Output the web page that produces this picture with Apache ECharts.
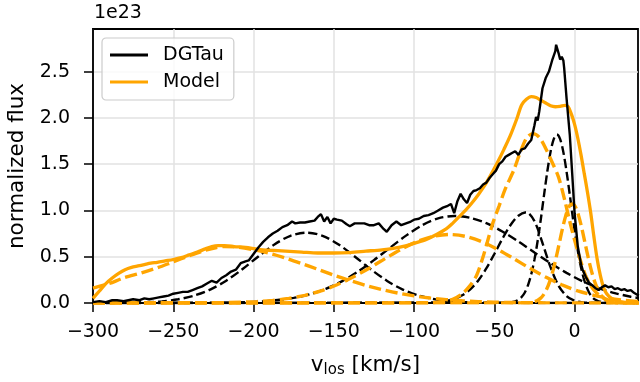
<!DOCTYPE html>
<html>
<head>
<meta charset="utf-8">
<script src="https://cdn.jsdelivr.net/npm/echarts@6/dist/echarts.min.js"></script>
<style>
  html, body { margin: 0; padding: 0; background: #ffffff; }
  #chart { width: 640px; height: 382px; }
</style>
</head>
<body>
<div id="chart"></div>
<script>
// Observed DG Tau line profile (flux in units of 1e23)
const dgVel = [-300,-296,-292,-288,-285,-281,-278,-275,-271,-268,-265,-262,-259,-256,-253,-250,-247,-244,-241,-238,
  -235,-232,-229,-226,-223,-220,-217,-214,-211,-208,-205,-203,-200,-197,-194,-191,-188,-185,-182,-179,
  -176,-174,-171,-168,-165,-162,-160,-158,-156,-154,-152,-150,-148,-145,-142,-140,-137,-134,-131,-128,
  -125,-122,-119,-117,-114,-111,-108,-105,-102,-100,-97,-94,-91,-88,-85,-82,-79,-77,-75,-73,
  -71,-69,-67,-65,-63,-61,-59,-57,-55,-53,-51,-49,-47,-45,-43,-41,-39,-37,-35,-33,
  -31,-29,-27,-25,-24,-23,-22,-20,-18,-16,-14,-12,-11.5,-10,-9,-8,-7,-6.5,-5,-3,
  -1.5,0,2,4,5,7,9,11,13,15,17,19,21,23,25,27,29,31,33,35,37,39,40];
const dgFlux = [0.01,0.02,0.01,0.03,0.03,0.02,0.03,0.04,0.03,0.05,0.04,0.05,0.06,0.07,0.08,0.10,0.11,0.12,0.12,0.14,
  0.16,0.18,0.21,0.24,0.22,0.27,0.30,0.34,0.36,0.43,0.45,0.46,0.53,0.60,0.66,0.71,0.75,0.78,0.82,0.84,
  0.88,0.86,0.87,0.87,0.88,0.89,0.93,0.96,0.88,0.93,0.86,0.91,0.90,0.89,0.85,0.83,0.86,0.86,0.86,0.84,
  0.84,0.86,0.80,0.77,0.84,0.88,0.84,0.86,0.88,0.90,0.91,0.94,0.95,0.97,1.00,1.03,1.05,1.07,0.97,1.10,
  1.18,1.12,1.08,1.17,1.21,1.22,1.24,1.28,1.30,1.35,1.39,1.43,1.50,1.53,1.58,1.60,1.62,1.64,1.60,1.66,
  1.67,1.72,1.76,1.92,2.01,1.97,2.07,2.32,2.43,2.50,2.62,2.72,2.79,2.70,2.63,2.66,2.62,2.54,2.21,1.82,
  1.40,0.97,0.61,0.42,0.36,0.28,0.22,0.19,0.16,0.14,0.17,0.19,0.17,0.18,0.15,0.16,0.14,0.15,0.13,0.14,0.11,0.09,0.08];

// Fitted model profile
const modelVel = [-300,-296,-292,-288,-284,-280,-276,-272,-268,-264,-260,-255,-250,-245,-240,-235,-230,-226,-222,-218,
  -212,-205,-197,-190,-180,-170,-160,-150,-140,-130,-120,-113,-106,-99,-92,-86,-80,-76,-72,-68,
  -64,-60,-56,-52,-48,-44,-40,-36,-33,-30,-27,-24,-21,-18,-15,-12,-9,-6,-4,-2,
  0,2,4,6,8,10,12,14,16,18,20,23,27,32,40];
const modelFlux = [0.05,0.13,0.21,0.27,0.32,0.36,0.385,0.40,0.415,0.43,0.44,0.455,0.47,0.49,0.52,0.55,0.585,0.61,0.62,0.62,
  0.61,0.60,0.58,0.57,0.56,0.55,0.54,0.54,0.545,0.56,0.575,0.59,0.615,0.65,0.69,0.74,0.80,0.86,0.93,1.0,
  1.08,1.17,1.27,1.39,1.52,1.66,1.81,1.99,2.14,2.2,2.23,2.22,2.19,2.16,2.13,2.12,2.125,2.135,2.12,2.04,
  1.93,1.78,1.6,1.4,1.2,0.98,0.72,0.48,0.3,0.17,0.1,0.05,0.02,0.005,0];

// Black dashed components
const bd1Vel = [-300,-280,-267,-257,-247,-237,-227,-217,-207,-197,-187,-177,-167,-157,-147,-137,-127,-117,-107,-97,-87,-77,-67,-47,40];
const bd1Flux = [0,0.002,0.008,0.018,0.04,0.08,0.145,0.241,0.365,0.503,0.632,0.726,0.76,0.726,0.632,0.503,0.365,0.241,0.145,0.08,0.04,0.018,0.008,0.001,0];
const bd2Vel = [-300,-235,-215,-195,-175,-165,-155,-145,-135,-125,-115,-105,-95,-85,-75,-65,-55,-45,-35,-25,-15,-5,5,15,25,35,40];
const bd2Flux = [0,0.001,0.004,0.016,0.055,0.095,0.153,0.234,0.339,0.463,0.597,0.728,0.84,0.914,0.94,0.92,0.862,0.773,0.664,0.546,0.43,0.325,0.234,0.162,0.107,0.068,0.053];
const bd3Vel = [-300,-90,-80,-75,-70,-65,-60,-55,-50,-45,-40,-35,-30,-25,-20,-15,-10,-5,0,5,10,40];
const bd3Flux = [0,0.004,0.02,0.043,0.083,0.148,0.244,0.373,0.529,0.693,0.84,0.943,0.98,0.884,0.648,0.387,0.188,0.074,0.024,0.006,0.001,0];
const bd4Vel = [-300,-41,-37,-35,-33,-31,-29,-27,-25,-23,-21,-19,-17,-15,-13,-11,-9,-7,-5,-3,-1,1,3,5,7,9,11,13,15,19,40];
const bd4Flux = [0,0.004,0.017,0.034,0.064,0.114,0.194,0.31,0.469,0.672,0.91,1.17,1.42,1.63,1.77,1.82,1.77,1.63,1.42,1.17,0.91,0.672,0.469,0.31,0.194,0.114,0.064,0.034,0.017,0.004,0];

// Orange dashed components
const od1Vel = [-300,-290,-281,-270,-260,-250,-240,-230,-223,-218,-210,-200,-190,-180,-170,-160,-150,-140,-130,-120,-110,-100,-90,-80,-70,-60,-50,-40,-20,40];
const od1Flux = [0.16,0.21,0.27,0.325,0.38,0.445,0.51,0.57,0.60,0.61,0.605,0.576,0.536,0.485,0.426,0.364,0.30,0.243,0.19,0.145,0.107,0.077,0.054,0.036,0.024,0.015,0.009,0.006,0.002,0];
const od2Vel = [-300,-218,-198,-188,-178,-168,-158,-148,-138,-128,-118,-108,-98,-88,-78,-68,-58,-48,-38,-28,-18,-8,2,12,22,32,40];
const od2Flux = [0,0.004,0.015,0.028,0.05,0.083,0.131,0.197,0.28,0.376,0.48,0.58,0.664,0.72,0.74,0.72,0.664,0.58,0.48,0.376,0.28,0.197,0.131,0.083,0.05,0.028,0.017];
const od3Vel = [-300,-95,-85,-76,-70,-65,-61,-57,-54,-51,-47,-43,-38,-34,-30,-26,-22,-18,-14,-10,-6,-3,0,4,7,10,13,17,22,28,40];
const od3Flux = [0,0.002,0.01,0.04,0.1,0.19,0.3,0.5,0.68,0.86,1.05,1.24,1.43,1.62,1.78,1.83,1.79,1.67,1.52,1.36,1.1,0.88,0.68,0.44,0.29,0.19,0.12,0.065,0.025,0.008,0];
const od4Vel = [-300,-29.5,-25.5,-23.5,-21.5,-19.5,-17.5,-15.5,-13.5,-11.5,-9.5,-7.5,-5.5,-3.5,-1.5,0.5,2.5,4.5,6.5,8.5,10.5,12.5,14.5,16.5,18.5,20.5,22.5,26.5,40];
const od4Flux = [0,0.002,0.012,0.024,0.047,0.085,0.145,0.231,0.347,0.49,0.649,0.808,0.944,1.04,1.07,1.04,0.944,0.808,0.649,0.49,0.347,0.231,0.145,0.085,0.047,0.024,0.012,0.002,0];

// Axis ticks
const xTicks = [-300,-250,-200,-150,-100,-50,0];
const yTicks = [0,0.5,1.0,1.5,2.0,2.5];

const FONT = 'DejaVu Sans';
const BLACK = '#000000';
const ORANGE = '#FFA500';

const pairs = (xs, ys) => xs.map((x, i) => [x, ys[i]]);
const minusFmt = v => (v < 0 ? '\u2212' + Math.abs(v) : String(v));

function compSeries(name, xs, ys, color, width, dash) {
  return {
    name: name, type: 'line', data: pairs(xs, ys),
    showSymbol: false, symbol: 'none', smooth: 0.3,
    lineStyle: { color: color, width: width, type: dash },
    itemStyle: { color: color }, z: 3, silent: true
  };
}

const chart = echarts.init(document.getElementById('chart'), null, { renderer: 'canvas' });
chart.setOption({
  animation: false,
  backgroundColor: '#ffffff',
  grid: { left: 93, top: 29, width: 545, height: 274, containLabel: false, outerBoundsMode: 'none',
          show: true, borderColor: BLACK, borderWidth: 1.8, backgroundColor: 'transparent' },
  legend: {
    data: ['DGTau', 'Model'], orient: 'vertical', left: 102, top: 38,
    icon: 'rect', itemWidth: 38, itemHeight: 3, itemGap: 5,
    padding: [6, 10, 7, 8],
    backgroundColor: 'rgba(255,255,255,0.8)', borderColor: '#cccccc', borderWidth: 1.2, borderRadius: 4,
    textStyle: { fontFamily: FONT, fontSize: 19, color: BLACK, lineHeight: 22, padding: [0, 0, 0, 10] }
  },
  xAxis: {
    type: 'value', min: -300, max: 39.5, interval: 50,
    name: '{v|v}{s|los}{v| [km/s]}', nameLocation: 'middle', nameGap: 50,
    nameTextStyle: { rich: {
      v: { fontFamily: FONT, fontSize: 21.5, color: BLACK },
      s: { fontFamily: FONT, fontSize: 15, color: BLACK, padding: [10, 0, 0, 0] }
    } },
    axisLine: { show: true, onZero: false, lineStyle: { color: BLACK, width: 1.8 } },
    axisTick: { show: true, inside: false, length: 9, lineStyle: { color: BLACK, width: 1.5 }, customValues: xTicks },
    axisLabel: { fontFamily: FONT, fontSize: 19, color: BLACK, margin: 20, formatter: minusFmt, customValues: xTicks },
    splitLine: { show: true, lineStyle: { color: '#e2e2e2', width: 1.5 } }
  },
  yAxis: {
    type: 'value', min: 0, max: 2.96, interval: 0.5,
    name: 'normalized flux', nameLocation: 'middle', nameGap: 63, nameRotate: 90,
    nameTextStyle: { fontFamily: FONT, fontSize: 21.5, color: BLACK },
    axisLine: { show: true, onZero: false, lineStyle: { color: BLACK, width: 1.8 } },
    axisTick: { show: true, inside: false, length: 9, lineStyle: { color: BLACK, width: 1.5 }, customValues: yTicks },
    axisLabel: { fontFamily: FONT, fontSize: 19, color: BLACK, margin: 23,
                 formatter: v => v.toFixed(1), customValues: yTicks },
    splitLine: { show: true, lineStyle: { color: '#e2e2e2', width: 1.5 } }
  },
  graphic: [{
    type: 'text', left: 94, top: 4,
    style: { text: '1e23', fontFamily: FONT, fontSize: 19, fill: BLACK }
  }],
  series: [
    compSeries('comp b1', bd1Vel, bd1Flux, BLACK, 2.4, [9, 4]),
    compSeries('comp b2', bd2Vel, bd2Flux, BLACK, 2.4, [9, 4]),
    compSeries('comp b3', bd3Vel, bd3Flux, BLACK, 2.4, [9, 4]),
    compSeries('comp b4', bd4Vel, bd4Flux, BLACK, 2.4, [9, 4]),
    compSeries('comp o1', od1Vel, od1Flux, ORANGE, 3.4, [12, 5]),
    compSeries('comp o2', od2Vel, od2Flux, ORANGE, 3.4, [12, 5]),
    compSeries('comp o3', od3Vel, od3Flux, ORANGE, 3.4, [12, 5]),
    compSeries('comp o4', od4Vel, od4Flux, ORANGE, 3.4, [12, 5]),
    {
      name: 'Model', type: 'line', data: pairs(modelVel, modelFlux),
      showSymbol: false, symbol: 'none', smooth: 0.3,
      lineStyle: { color: ORANGE, width: 3.3 }, itemStyle: { color: ORANGE }, z: 4
    },
    {
      name: 'DGTau', type: 'line', data: pairs(dgVel, dgFlux),
      showSymbol: false, symbol: 'none', smooth: false,
      lineStyle: { color: BLACK, width: 2.4 }, itemStyle: { color: BLACK }, z: 5
    }
  ]
});
</script>
</body>
</html>
